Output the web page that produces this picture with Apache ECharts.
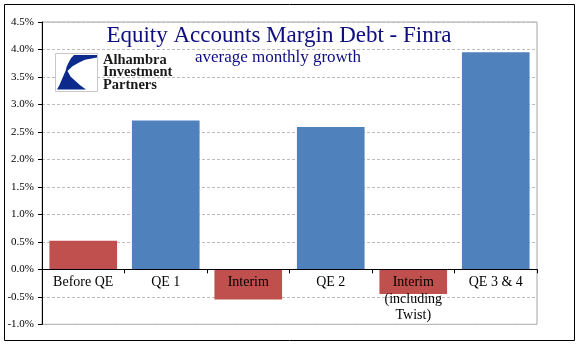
<!DOCTYPE html>
<html>
<head>
<meta charset="utf-8">
<script src="https://cdn.jsdelivr.net/npm/echarts@6/dist/echarts.min.js"></script>
<style>
html,body{margin:0;padding:0;background:#fff;}
#chart{width:583px;height:347px;}
</style>
</head>
<body>
<div id="chart"></div>
<script>
// ---- data ----
var categories = ['Before QE', 'QE 1', 'Interim', 'QE 2', 'Interim\n(including\nTwist)', 'QE 3 & 4'];
var growthPct = [0.52, 2.71, -0.55, 2.59, -0.45, 3.95];
var isQE = [false, true, false, true, false, true];
var yTicks = { min: -1.0, max: 4.5, step: 0.5 };
var titleText = 'Equity Accounts Margin Debt - Finra';
var subtitleText = 'average monthly growth';
var logoLines = ['Alhambra', 'Investment', 'Partners'];

// ---- styles ----
var QE_COLOR = '#4F81BD';
var OTHER_COLOR = '#C0504D';
var SERIF = '"Liberation Serif", "Times New Roman", serif';
var NAVY = '#0E0E7E';
var LOGO_SHAPE = [[74,55],[97,55],[97,57.5],[85,59.8],[79.1,62.6],[72.5,66.3],[67.5,71],[70.5,76.5],[75.4,81.1],[80.5,85.5],[86,89.5],[57,89.5],[59.5,85],[61.6,80.1],[65.5,71],[66.8,66.2],[68.9,62],[71,58.2]];

var chart = echarts.init(document.getElementById('chart'));

var seriesData = growthPct.map(function (v, i) {
  return { value: v, itemStyle: { color: isQE[i] ? QE_COLOR : OTHER_COLOR } };
});

var option = {
  animation: false,
  backgroundColor: '#fff',
  grid: {
    left: 42, right: 46, top: 22, bottom: 22.7,
    containLabel: false, outerBoundsMode: 'none',
    show: true, borderColor: '#A6A6A6', borderWidth: 1
  },
  xAxis: {
    type: 'category',
    data: categories,
    z: 5,
    offset: 0,
    axisLine: { onZero: false, lineStyle: { color: '#000', width: 1 } },
    axisTick: { show: true, inside: false, length: 4, lineStyle: { color: '#000' } },
    axisLabel: {
      interval: 0, margin: 5, color: '#000',
      fontFamily: SERIF, fontSize: 14, lineHeight: 16.5
    }
  },
  yAxis: {
    type: 'value',
    min: yTicks.min, max: yTicks.max, interval: yTicks.step,
    axisLine: { show: true, lineStyle: { color: '#000', width: 1 } },
    axisTick: { show: true, length: 4, lineStyle: { color: '#000' } },
    axisLabel: {
      margin: 8, color: '#000', fontFamily: SERIF, fontSize: 11,
      formatter: function (v) { return v.toFixed(1) + '%'; }
    },
    splitLine: { show: true, lineStyle: { color: '#BDBDBD', type: [3, 2], width: 1 } }
  },
  series: [{
    type: 'bar',
    data: seriesData,
    barCategoryGap: '18%',
    z: 2
  }],
  graphic: [
    { type: 'rect', shape: { x: 4.5, y: 4.5, width: 570, height: 336 },
      style: { fill: 'none', stroke: '#000', lineWidth: 1 }, z: 10 },
    { type: 'text', x: 279, y: 36, z: 10,
      style: { text: titleText, fontFamily: SERIF, fontSize: 23, fill: NAVY,
               textAlign: 'center', textVerticalAlign: 'middle' } },
    { type: 'text', x: 278, y: 57.5, z: 10,
      style: { text: subtitleText, fontFamily: SERIF, fontSize: 17, fill: NAVY,
               textAlign: 'center', textVerticalAlign: 'middle' } },
    { type: 'rect', shape: { x: 55.5, y: 53.5, width: 42, height: 38 },
      style: { fill: '#fff', stroke: '#C8C8C8', lineWidth: 1 }, z: 10 },
    { type: 'polygon', z: 11,
      shape: { points: LOGO_SHAPE },
      style: { fill: '#0B2A8C' } },
    { type: 'text', x: 103, y: 67.5, z: 10,
      style: { text: logoLines[0], fontFamily: SERIF, fontSize: 14.5, fontWeight: 'bold', fill: '#1a1a1a',
               textAlign: 'left', textVerticalAlign: 'bottom' } },
    { type: 'text', x: 103, y: 80, z: 10,
      style: { text: logoLines[1], fontFamily: SERIF, fontSize: 14.5, fontWeight: 'bold', fill: '#1a1a1a',
               textAlign: 'left', textVerticalAlign: 'bottom' } },
    { type: 'text', x: 103, y: 92.5, z: 10,
      style: { text: logoLines[2], fontFamily: SERIF, fontSize: 14.5, fontWeight: 'bold', fill: '#1a1a1a',
               textAlign: 'left', textVerticalAlign: 'bottom' } }
  ]
};
chart.setOption(option);

// move the category axis (line + labels) up to the zero line, using the value scale
var yZero = chart.convertToPixel({ yAxisIndex: 0 }, 0);
var yBottom = chart.convertToPixel({ yAxisIndex: 0 }, yTicks.min);
chart.setOption({ xAxis: { offset: -(yBottom - yZero) } });
</script>
</body>
</html>
